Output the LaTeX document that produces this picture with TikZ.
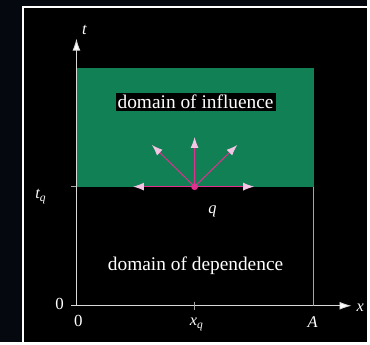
\documentclass[tikz,border=0pt]{standalone}
\usepackage{fontspec}
\setmainfont{Liberation Serif}
\usepackage{xcolor}
\usetikzlibrary{arrows.meta,positioning}
\definecolor{navy}{HTML}{05080F}
\definecolor{domgreen}{HTML}{118055}
\definecolor{magline}{HTML}{E03090}
\definecolor{pinktip}{HTML}{F4C4E4}

\begin{document}
\begin{tikzpicture}[
  x=1pt, y=1pt,
  font=\fontsize{17}{19}\selectfont,
  axis/.style  = {draw=white!85!black, line width=0.9pt,
                  -{Latex[length=12pt,width=8pt,fill=white]}},
  thin/.style  = {draw=white!65!black, line width=0.6pt},
  wave/.style  = {draw=magline, line width=1pt,
                  -{Latex[length=11pt,width=8pt,color=pinktip]}},
  lbl/.style   = {text=white, inner sep=1pt},
  ital/.style  = {lbl, font=\fontsize{16.5}{18}\selectfont\itshape},
  dom/.style   = {text=white, font=\fontsize{19.5}{21}\selectfont, inner sep=2pt}
]
%% Background and frame
\fill[navy] (0,0) rectangle (370,344);
\fill[black] (23,0) rectangle (370,337);
\draw[white, line width=1.4pt] (23,-2) -- (23,337) -- (372,337);
\useasboundingbox (0,0) rectangle (370,344);
%% Key points
\coordinate (o)  at (77,36);
\coordinate (ty) at (77,305);
\coordinate (xe) at (354,36);
\coordinate (xs) at (72,36);
\coordinate (tl) at (77,156);
\coordinate (tr) at (316,156);
\coordinate (ab) at (316,36);
\coordinate (xq) at (196,36);
%% Domain of influence
\fill[domgreen] (tl) rectangle (316,275);
\node[dom, fill=black] (infl) at (197,241) {domain of influence};
\node[dom] (depn) at (197,76) {domain of dependence};
%% Axes
\draw[axis] (o) -- (ty);
\draw[axis] (xs) -- (xe);
\draw[thin] (tr) -- (ab);
\draw[thin] (xq) -- ++(0,4) -- ++(0,-8);
\draw[thin] (tl) -- ++(-5,0);
%% Point q and its signals
\node[circle, fill=magline, inner sep=0pt, minimum size=7pt] (q) at (196,156) {};
\coordinate (wl) at (134,156);
\coordinate (wr) at (256,156);
\coordinate (wu) at (196,206);
\coordinate (wa) at (153,198);
\coordinate (wb) at (239,198);
\foreach \tg in {wl,wr,wu,wa,wb}{
  \draw[wave] (q.center) -- (\tg);}
%% Labels
\node[ital] (lt)  at (85,314) {t};
\node[ital] (ltq) at (41,146) {t\textsubscript{q}};
\node[ital] (lq)  at (214,131) {q};
\node[lbl] (lz1) at (60,38) {0};
\node[lbl] (lz2) at (79,21) {0};
\node[ital] (lxq) at (198,17) {x\textsubscript{q}};
\node[ital] (la)  at (315,20) {A};
\node[ital] (lx)  at (363,34) {x};
\end{tikzpicture}
\end{document}
